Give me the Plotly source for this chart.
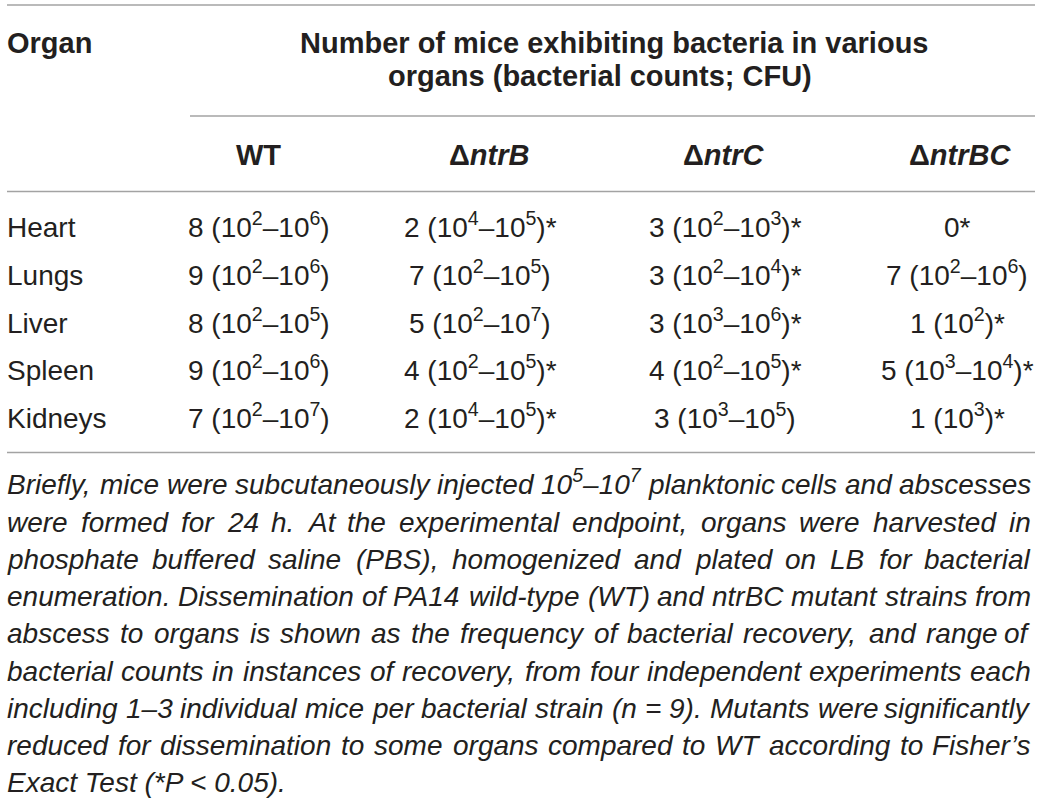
import plotly.graph_objects as go

# ---------------- data ----------------
organs = ["Heart", "Lungs", "Liver", "Spleen", "Kidneys"]
strain_names = ["WT", "ntrB", "ntrC", "ntrBC"]
strain_is_mutant = [False, True, True, True]

# number of mice exhibiting bacteria
wt_n = [8, 9, 8, 9, 7]
ntrB_n = [2, 7, 5, 4, 2]
ntrC_n = [3, 3, 3, 4, 3]
ntrBC_n = [0, 7, 1, 5, 1]

# range of bacterial counts (CFU) as powers of ten; None = not given
wt_lo = [2, 2, 2, 2, 2]
wt_hi = [6, 6, 5, 6, 7]
ntrB_lo = [4, 2, 2, 2, 4]
ntrB_hi = [5, 5, 7, 5, 5]
ntrC_lo = [2, 2, 3, 2, 3]
ntrC_hi = [3, 4, 6, 5, 5]
ntrBC_lo = [None, 2, 2, 3, 3]
ntrBC_hi = [None, 6, None, 4, None]

# significantly reduced vs WT (Fisher's exact test, *P < 0.05)
wt_sig = [False, False, False, False, False]
ntrB_sig = [True, False, False, True, True]
ntrC_sig = [True, True, True, True, False]
ntrBC_sig = [True, False, True, True, True]

header_organ = "Organ"
header_group = ["Number of mice exhibiting bacteria in various",
                "organs (bacterial counts; CFU)"]

footnote_lines = [
    "Briefly, mice were subcutaneously injected 10<sup>5</sup>–10<sup>7</sup> planktonic cells and abscesses",
    "were formed for 24 h. At the experimental endpoint, organs were harvested in",
    "phosphate buffered saline (PBS), homogenized and plated on LB for bacterial",
    "enumeration. Dissemination of PA14 wild-type (WT) and ntrBC mutant strains from",
    "abscess to organs is shown as the frequency of bacterial recovery, and range of",
    "bacterial counts in instances of recovery, from four independent experiments each",
    "including 1–3 individual mice per bacterial strain (n = 9). Mutants were significantly",
    "reduced for dissemination to some organs compared to WT according to Fisher’s",
    "Exact Test (*P < 0.05).",
]

columns = [
    (wt_n, wt_lo, wt_hi, wt_sig),
    (ntrB_n, ntrB_lo, ntrB_hi, ntrB_sig),
    (ntrC_n, ntrC_lo, ntrC_hi, ntrC_sig),
    (ntrBC_n, ntrBC_lo, ntrBC_hi, ntrBC_sig),
]

# ---------------- styling / layout ----------------
W, H = 1045, 804
FONT = "Liberation Sans, Arial, Helvetica, sans-serif"
INK = "#231f20"
RULE = "#a3a3a3"
BODY = 28
BOLD = 29
NOTE = 28
DESC = 0.212  # font descent (em)

left_x = 7
right_x = 1035
header_col_x = [258.5, 489, 724, 960]
data_col_x = [259, 480, 725, 957]
group_x = [613.5, 600]
base_header1 = 53
base_header2 = 86
base_strain = 165
base_row0 = 237.5
row_step = 47.6
base_note0 = 494.5
note_step = 37.25
note_left, note_right = 7, 1031

HELV = {
    'a': 556, 'b': 556, 'c': 500, 'd': 556, 'e': 556, 'f': 278, 'g': 556, 'h': 556,
    'i': 222, 'j': 222, 'k': 500, 'l': 222, 'm': 833, 'n': 556, 'o': 556, 'p': 556,
    'q': 556, 'r': 333, 's': 500, 't': 278, 'u': 556, 'v': 500, 'w': 722, 'x': 500,
    'y': 500, 'z': 500,
    'A': 667, 'B': 667, 'C': 722, 'D': 722, 'E': 667, 'F': 611, 'G': 778, 'H': 722,
    'I': 278, 'J': 500, 'K': 667, 'L': 556, 'M': 833, 'N': 722, 'O': 778, 'P': 667,
    'Q': 778, 'R': 722, 'S': 667, 'T': 611, 'U': 722, 'V': 667, 'W': 944, 'X': 667,
    'Y': 667, 'Z': 611,
    ' ': 278, ',': 278, '.': 278, '(': 333, ')': 333, '–': 556, '*': 389, '<': 584,
    '=': 584, '’': 222, '-': 333, ';': 278, ':': 278,
}


def text_width(s, size):
    w, scale, i = 0.0, 1.0, 0
    while i < len(s):
        if s.startswith("<sup>", i):
            scale = 0.7
            i += 5
            continue
        if s.startswith("</sup>", i):
            scale = 1.0
            i += 6
            continue
        w += HELV.get(s[i], 556) * scale
        i += 1
    return w * size / 1000.0


def cell_text(n, lo, hi, sig):
    s = str(n)
    if lo is not None:
        s += " (10<sup>%d</sup>" % lo
        if hi is not None:
            s += "–10<sup>%d</sup>" % hi
        s += ")"
    if sig:
        s += "*"
    return s


fig = go.Figure()
fig.add_trace(go.Scatter(x=[], y=[], mode="markers", hoverinfo="skip", showlegend=False))


def txt(x, base, text, size, xanchor="center"):
    fig.add_annotation(
        x=x, y=base + DESC * size, xref="x", yref="y", text=text, showarrow=False,
        xanchor=xanchor, yanchor="bottom", borderpad=0, borderwidth=0,
        font=dict(family=FONT, size=size, color=INK),
    )


# header
txt(left_x, base_header1, "<b>%s</b>" % header_organ, BOLD, "left")
txt(group_x[0], base_header1, "<b>%s</b>" % header_group[0], BOLD)
txt(group_x[1], base_header2, "<b>%s</b>" % header_group[1], BOLD)
for j, name in enumerate(strain_names):
    label = "<b>Δ<i>%s</i></b>" % name if strain_is_mutant[j] else "<b>%s</b>" % name
    txt(header_col_x[j], base_strain, label, BOLD)

# body
for i, organ in enumerate(organs):
    base = base_row0 + i * row_step
    txt(left_x, base, organ, BODY, "left")
    for j, (ns, los, his, sigs) in enumerate(columns):
        txt(data_col_x[j], base, cell_text(ns[i], los[i], his[i], sigs[i]), BODY)

# footnote (justified, italic)
for k, line in enumerate(footnote_lines):
    base = base_note0 + k * note_step
    words = line.split(" ")
    last = k == len(footnote_lines) - 1
    if last:
        txt(note_left, base, "<i>%s</i>" % line, NOTE, "left")
        continue
    widths = [text_width(w, NOTE) for w in words]
    gap = (note_right - note_left - sum(widths)) / (len(words) - 1)
    x = note_left
    for m, w in enumerate(words):
        if m == len(words) - 1:
            txt(note_right, base, "<i>%s</i>" % w, NOTE, "right")
        else:
            txt(x, base, "<i>%s</i>" % w, NOTE, "left")
        x += widths[m] + gap

# rules
for (x0, x1, y) in [(left_x, right_x, 5), (190, right_x, 116),
                    (left_x, right_x, 191.5), (left_x, right_x, 452.5)]:
    fig.add_shape(type="line", xref="x", yref="y", x0=x0, x1=x1, y0=y, y1=y,
                  line=dict(color=RULE, width=1.6))

fig.update_layout(
    width=W, height=H, autosize=False,
    margin=dict(l=0, r=0, t=0, b=0, pad=0),
    paper_bgcolor="white", plot_bgcolor="white",
    xaxis=dict(range=[0, W], visible=False, fixedrange=True),
    yaxis=dict(range=[H, 0], visible=False, fixedrange=True),
    showlegend=False,
)

fig.write_html("out.html", config={"displayModeBar": False},
               post_script="document.body.style.margin='0';document.body.style.overflow='hidden';")
